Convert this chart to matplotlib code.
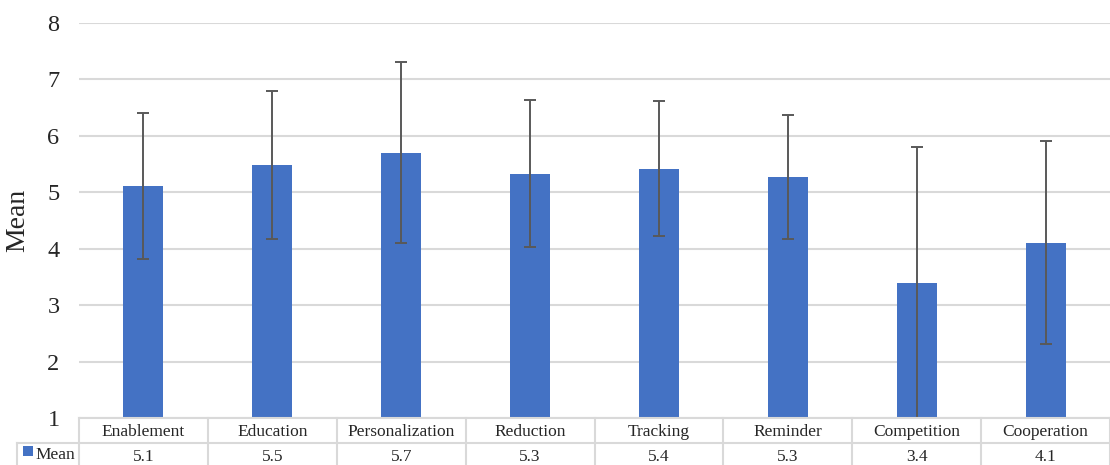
import matplotlib
matplotlib.use("Agg")
import matplotlib.pyplot as plt
from matplotlib.lines import Line2D
from matplotlib.patches import Rectangle
from matplotlib.transforms import blended_transform_factory
import numpy as np

categories = ["Enablement", "Education", "Personalization", "Reduction",
              "Tracking", "Reminder", "Competition", "Cooperation"]
means = [5.11, 5.49, 5.70, 5.33, 5.42, 5.27, 3.39, 4.11]
std_devs = [1.30, 1.31, 1.60, 1.30, 1.20, 1.10, 2.41, 1.80]
series_name = "Mean"
y_ticks = [1, 2, 3, 4, 5, 6, 7, 8]

plt.rcParams["font.family"] = ["Liberation Serif", "DejaVu Serif"]

BAR = "#4472C4"
ERR = "#595959"
GRID = "#D9D9D9"
TEXT = "#262626"

W, H = 1110, 465
fig = plt.figure(figsize=(W / 100, H / 100), dpi=100)
ax_left, ax_right, ax_top, ax_bottom = 79, 1110, 23, 418
ax = fig.add_axes([ax_left / W, (H - ax_bottom) / H,
                   (ax_right - ax_left) / W, (ax_bottom - ax_top) / H])

x = np.arange(len(categories))
ax.bar(x, means, width=0.31, color=BAR, zorder=2)
ax.errorbar(x, means, yerr=std_devs, fmt="none", ecolor=ERR,
            elinewidth=1.4, capsize=4.5, capthick=1.4, zorder=3)

ax.set_xlim(-0.5, len(categories) - 0.5)
ax.set_ylim(y_ticks[0], y_ticks[-1])
ax.set_yticks(y_ticks)
ax.set_yticklabels([str(t) for t in y_ticks], fontsize=17.5, color=TEXT)
ax.tick_params(axis="y", length=0, pad=14)
ax.set_xticks([])
for s in ax.spines.values():
    s.set_visible(False)
ax.yaxis.grid(True, color=GRID, linewidth=1.5, zorder=0)
ax.set_axisbelow(True)
ax.set_ylabel(series_name, fontsize=20, color=TEXT)
ax.yaxis.set_label_coords(-0.047, 0.5)

# data table under the plot area
tr = blended_transform_factory(ax.transData, ax.transAxes)
ax_h = ax_bottom - ax_top
col_w = (ax_right - ax_left) / len(categories)

def fy(px):
    return -px / ax_h

def fx(px):
    return (px - ax_left) / col_w - 0.5

row1, row2 = 25, 50
line_kw = dict(color=GRID, linewidth=1.5, transform=tr, clip_on=False, zorder=4)
ax.add_line(Line2D([-0.5, len(categories) - 0.5], [0, 0], **line_kw))
ax.add_line(Line2D([fx(17), len(categories) - 0.5], [fy(row1), fy(row1)], **line_kw))
for i in range(len(categories) + 1):
    ax.add_line(Line2D([i - 0.5, i - 0.5], [0, fy(row2)], **line_kw))
ax.add_line(Line2D([fx(17), fx(17)], [fy(row1), fy(row2)], **line_kw))

for i, (cat, m) in enumerate(zip(categories, means)):
    ax.text(i, fy(row1 / 2 + 1), cat, transform=tr, ha="center", va="center",
            fontsize=12.5, color=TEXT, clip_on=False)
    ax.text(i, fy(row1 + 14), f"{m:.1f}", transform=tr, ha="center",
            va="center", fontsize=12.5, color=TEXT, clip_on=False)

# legend key in the table's first column
key = Rectangle((23 / W, (H - 456) / H), 10 / W, 10 / H, facecolor=BAR,
                edgecolor="none", transform=fig.transFigure, clip_on=False)
fig.patches.append(key)
fig.text(35 / W, (H - 455) / H, series_name, ha="left", va="center",
         fontsize=12.5, color=TEXT)

fig.savefig("out.png", dpi=100, facecolor="white")
